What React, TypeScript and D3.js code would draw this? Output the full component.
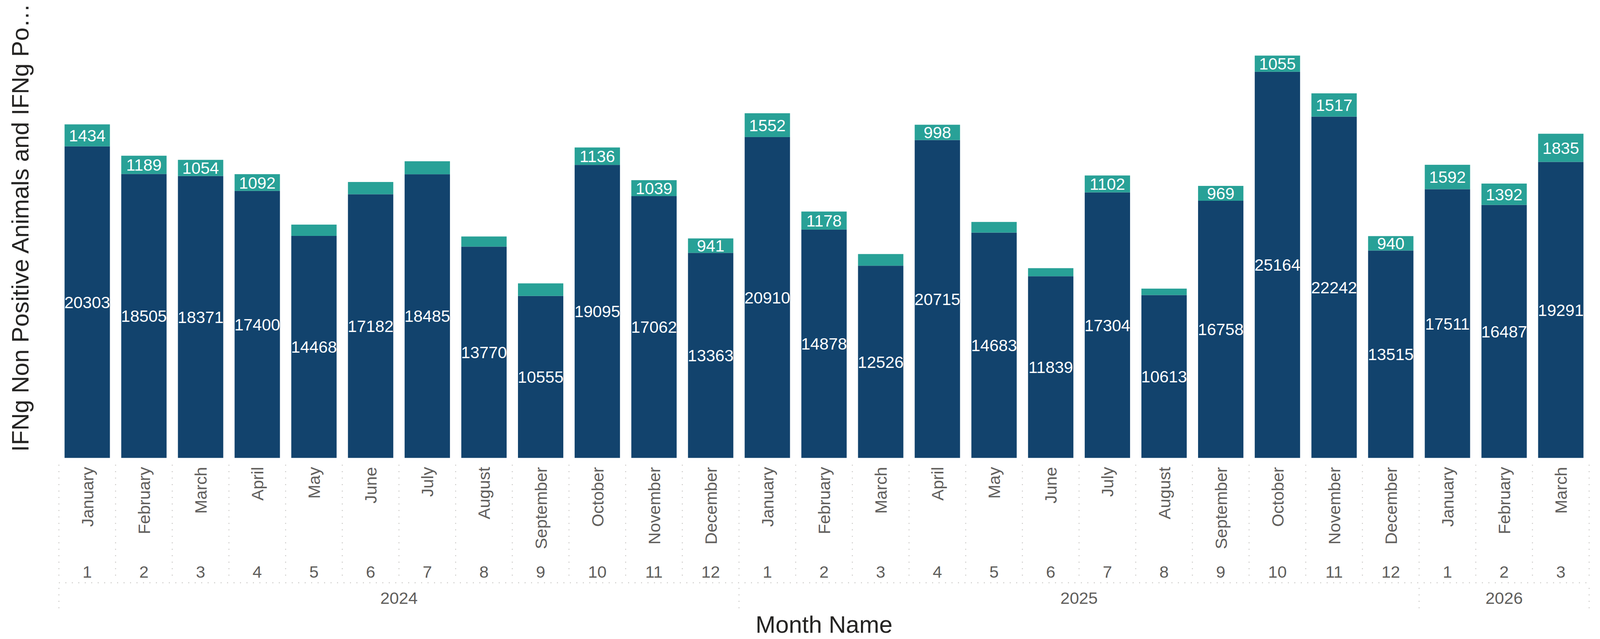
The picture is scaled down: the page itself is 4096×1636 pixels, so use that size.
import * as d3 from 'd3'

// reference is drawn in its own 4946x1976 space and scaled by the viewBox (0.828)
const W = 4946, H = 1976
const OUT_W = 4096, OUT_H = 1636

const MONTHS = [
  'January', 'February', 'March', 'April', 'May', 'June', 'July', 'August', 'September', 'October', 'November', 'December',
  'January', 'February', 'March', 'April', 'May', 'June', 'July', 'August', 'September', 'October', 'November', 'December',
  'January', 'February', 'March',
]
const MONTH_NUMS = [1, 2, 3, 4, 5, 6, 7, 8, 9, 10, 11, 12, 1, 2, 3, 4, 5, 6, 7, 8, 9, 10, 11, 12, 1, 2, 3]
const YEARS = [
  2024, 2024, 2024, 2024, 2024, 2024, 2024, 2024, 2024, 2024, 2024, 2024,
  2025, 2025, 2025, 2025, 2025, 2025, 2025, 2025, 2025, 2025, 2025, 2025,
  2026, 2026, 2026,
]

// IFNg Non Positive Animals (dark)
const NON_POSITIVE = [
  20303, 18505, 18371, 17400, 14468, 17182, 18485, 13770, 10555, 19095, 17062, 13363,
  20910, 14878, 12526, 20715, 14683, 11839, 17304, 10613, 16758, 25164, 22242, 13515,
  17511, 16487, 19291,
]
// IFNg Positive Animals (teal) – unlabelled ones
const POSITIVE = [
  1434, 1189, 1054, 1092, 736, 800, 848, 660, 820, 1136, 1039, 941,
  1552, 1178, 760, 998, 695, 527, 1102, 420, 969, 1055, 1517, 940,
  1592, 1392, 1835,
]

const DARK = '#12436D'
const TEAL = '#28A197'
const TICK = '#605E5C'
const TITLE = '#252423'
const GRID = '#C8C6C4'
const FONT = '"Liberation Sans", Arial, Helvetica, sans-serif'

const PLOT = { left: 181.5, right: 4913, top: 87.4, bottom: 1416 }
const LABEL_FS = 51
const TICK_FS = 52
const TITLE_FS = 74

export default function App() {
  const idx = d3.range(MONTHS.length)

  const x = d3.scaleBand<number>()
    .domain(idx)
    .range([PLOT.left, PLOT.right])
    .paddingInner(0.2)
    .paddingOuter(0.1)

  const y = d3.scaleLinear().domain([0, 28000]).range([PLOT.bottom, PLOT.top])

  const step = x.step()
  const bw = x.bandwidth()
  const cx = (i: number) => x(i)! + bw / 2
  const edge = (i: number) => PLOT.left + i * step

  // stacked series
  const rows = idx.map(i => ({ i, np: NON_POSITIVE[i], p: POSITIVE[i] }))
  const stack = d3.stack<typeof rows[number]>().keys(['np', 'p'])(rows as any)
  const colors = [DARK, TEAL]

  // year groups
  const yearGroups = d3.groups(idx, i => YEARS[i]).map(([yr, ii]) => ({
    yr, start: ii[0], end: ii[ii.length - 1] + 1,
  }))

  const dots = { stroke: GRID, strokeWidth: 3, strokeDasharray: '3 17' }

  return (
    <svg
      width={OUT_W} height={OUT_H} viewBox={`0 0 ${W} ${H}`}
      style={{ position: 'absolute', left: 0, top: 0, background: '#fff' }}
      fontFamily={FONT}
    >
      {/* bars */}
      {stack.map((layer, li) => (
        <g key={li}>
          {layer.map((d, i) => {
            const top = y(d[1]), bot = y(d[0])
            const h = bot - top
            const val = d[1] - d[0]
            return (
              <g key={i}>
                <rect x={x(i)} y={top} width={bw} height={h} fill={colors[li]} />
                {h >= LABEL_FS * 0.83 && (
                  <text x={cx(i)} y={(top + bot) / 2} dy="0.36em" textAnchor="middle"
                    fontSize={LABEL_FS} fill="#fff">{val}</text>
                )}
              </g>
            )
          })}
        </g>
      ))}

      {/* month-level separators */}
      {d3.range(MONTHS.length + 1).map(i => (
        <line key={'ms' + i} x1={edge(i)} x2={edge(i)} y1={1437} y2={1786} {...dots} />
      ))}
      <line x1={PLOT.left} x2={PLOT.right} y1={1802} y2={1802} {...dots} />

      {/* year-level separators */}
      {[...yearGroups.map(g => g.start), MONTHS.length].map(i => (
        <line key={'ys' + i} x1={edge(i)} x2={edge(i)} y1={1818} y2={1885} {...dots} />
      ))}

      {/* month names */}
      {idx.map(i => (
        <text key={'mn' + i} transform={`translate(${cx(i)},1444) rotate(-90)`}
          dy="0.36em" textAnchor="end" fontSize={TICK_FS} fill={TICK}>{MONTHS[i]}</text>
      ))}

      {/* month numbers */}
      {idx.map(i => (
        <text key={'nu' + i} x={cx(i)} y={1786} textAnchor="middle" fontSize={TICK_FS} fill={TICK}>
          {MONTH_NUMS[i]}
        </text>
      ))}

      {/* years */}
      {yearGroups.map(g => (
        <text key={'yr' + g.yr} x={(edge(g.start) + edge(g.end)) / 2} y={1867}
          textAnchor="middle" fontSize={TICK_FS} fill={TICK}>{g.yr}</text>
      ))}

      {/* axis titles */}
      <text x={(PLOT.left + PLOT.right) / 2} y={1957} textAnchor="middle"
        fontSize={TITLE_FS} fill={TITLE}>Month Name</text>
      <text transform="translate(88,704) rotate(-90)" textAnchor="middle"
        fontSize={TITLE_FS} fill={TITLE}>IFNg Non Positive Animals and IFNg Po…</text>
    </svg>
  )
}
